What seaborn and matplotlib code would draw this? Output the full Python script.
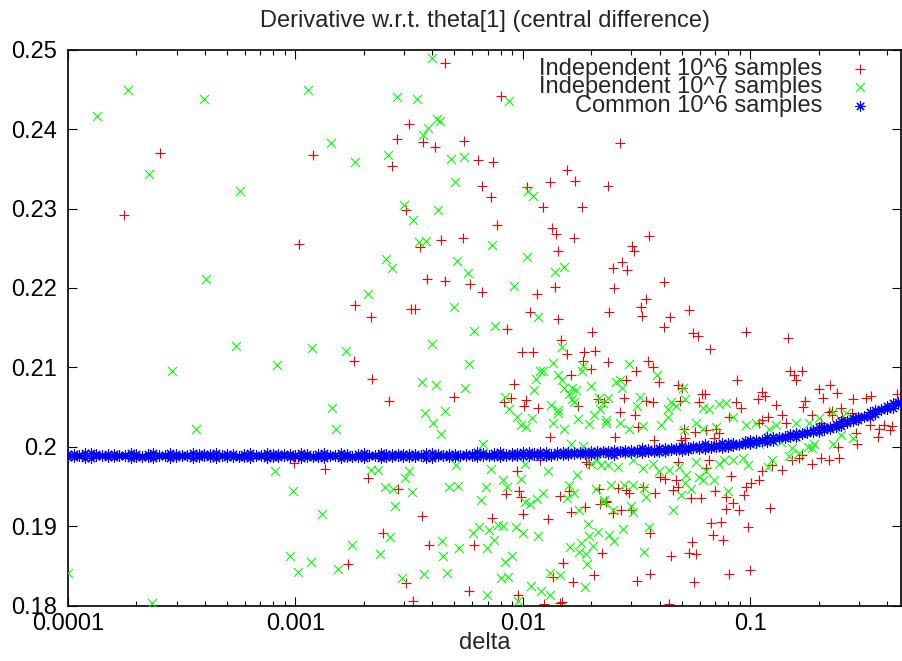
import numpy as np
import matplotlib
matplotlib.use("Agg")
import matplotlib.pyplot as plt
import matplotlib.ticker as mticker
import seaborn as sns

# Independent 10^6 samples (red +)
red_x = [
    2.54e-4, 1.20e-3, 1.76e-4, 4.56e-3, 8.03e-3, 3.15e-3, 2.79e-3, 3.63e-3, 4.09e-3, 5.50e-3,
    2.66e-3, 6.34e-3, 7.41e-3, 1.56e-2, 1.70e-2, 1.32e-2, 2.37e-2, 6.58e-3, 7.21e-3, 1.04e-2,
    1.23e-2, 1.82e-2, 3.05e-3, 7.66e-3, 1.34e-2, 2.68e-2, 1.04e-3, 1.40e-2, 1.67e-2, 4.35e-3,
    5.45e-3, 3.54e-3, 1.43e-2, 3.80e-3, 4.53e-3, 5.85e-3, 6.62e-3, 1.39e-2, 1.15e-2, 1.82e-3,
    3.21e-3, 3.35e-3, 2.14e-3, 1.07e-2, 1.42e-2, 8.50e-3, 2.02e-2, 1.47e-2, 9.86e-3, 1.11e-2,
    1.57e-2, 1.85e-2, 2.08e-2, 1.83e-2, 2.36e-2, 2.00e-2, 1.63e-2, 1.80e-3, 2.18e-3, 2.58e-3,
    4.99e-3, 9.12e-3, 8.88e-3, 1.03e-2, 1.01e-2, 1.17e-2, 1.74e-2, 2.13e-2, 8.24e-3, 2.40e-2,
    3.57e-2, 3.01e-2, 3.07e-2, 2.73e-2, 2.49e-2, 2.88e-2, 4.19e-2, 2.52e-2, 3.48e-2, 3.30e-2,
    3.34e-2, 5.35e-2, 4.45e-2, 4.16e-2, 5.57e-2, 5.89e-2, 9.57e-2, 0.146, 6.62e-2, 3.54e-2,
    3.15e-2, 3.75e-2, 2.84e-2, 3.98e-2, 0.150, 0.156, 0.158, 0.168, 8.74e-2, 4.79e-2,
    5.01e-2, 2.77e-2, 6.12e-2, 6.31e-2, 3.48e-2, 3.72e-2, 4.90e-2, 5.93e-2, 8.68e-2, 0.113,
    0.116, 0.108, 0.200, 0.224, 0.240, 0.209, 0.174, 0.282, 0.323, 0.340,
    0.130, 0.170, 9.10e-2, 2.66e-2, 2.28e-2, 0.440, 0.228, 0.250, 9.87e-4, 1.35e-3,
    1.31e-2, 1.19e-2, 9.44e-3, 1.90e-2, 1.95e-2, 2.09e-3, 2.82e-3, 9.59e-3, 9.84e-3, 8.45e-3,
    1.45e-2, 1.59e-2, 2.15e-2, 2.18e-2, 2.32e-2, 1.88e-2, 1.62e-2, 1.00e-2, 1.29e-2, 7.28e-3,
    3.60e-3, 2.43e-3, 3.86e-3, 6.10e-3, 2.23e-2, 1.50e-2, 1.70e-3, 2.06e-2, 1.36e-2, 1.66e-2,
    3.05e-3, 5.81e-3, 9.50e-3, 3.28e-3, 1.24e-2, 1.45e-2, 1.49e-2, 3.11e-2, 3.22e-2, 3.78e-2,
    2.54e-2, 5.13e-2, 5.18e-2, 4.95e-2, 5.70e-2, 6.38e-2, 7.06e-2, 7.30e-2, 6.93e-2, 8.07e-2,
    0.109, 0.112, 0.120, 0.138, 0.143, 0.187, 0.204, 0.222, 0.229, 0.254,
    0.281, 0.300, 0.336, 0.366, 0.388, 0.418, 0.363, 0.412, 0.290, 0.295,
    0.244, 0.245, 0.222, 0.204, 0.187, 0.169, 0.163, 0.152, 0.138, 0.125,
    0.113, 0.109, 0.101, 9.57e-2, 9.40e-2, 8.26e-2, 8.87e-2, 7.81e-2, 7.81e-2, 8.36e-2,
    7.02e-2, 6.07e-2, 5.49e-2, 0.122, 6.71e-2, 7.43e-2, 6.82e-2, 7.60e-2, 9.72e-2, 5.56e-2,
    5.37e-2, 5.78e-2, 4.48e-2, 3.63e-2, 3.62e-2, 3.18e-2, 5.65e-2, 8.07e-2, 0.100, 4.37e-2,
    4.71e-2, 4.79e-2, 4.58e-2, 4.20e-2, 4.01e-2, 4.79e-2, 6.38e-2, 6.60e-2, 3.82e-2, 3.37e-2,
    2.84e-2, 2.92e-2, 2.61e-2, 2.32e-2, 2.48e-2, 2.70e-2, 2.99e-2,
]
red_y = [
    0.2370, 0.2367, 0.2292, 0.2483, 0.2442, 0.2406, 0.2387, 0.2384, 0.2378, 0.2385,
    0.2354, 0.2361, 0.2358, 0.2349, 0.2335, 0.2334, 0.2329, 0.2329, 0.2314, 0.2327,
    0.2302, 0.2302, 0.2298, 0.2279, 0.2275, 0.2382, 0.2255, 0.2268, 0.2263, 0.2261,
    0.2263, 0.2252, 0.2247, 0.2211, 0.2209, 0.2205, 0.2195, 0.2201, 0.2192, 0.2179,
    0.2173, 0.2173, 0.2164, 0.2170, 0.2161, 0.2148, 0.2145, 0.2135, 0.2119, 0.2119,
    0.2117, 0.2119, 0.2121, 0.2108, 0.2107, 0.2098, 0.2091, 0.2108, 0.2085, 0.2058,
    0.2063, 0.2079, 0.2061, 0.2059, 0.2051, 0.2049, 0.2052, 0.2060, 0.2057, 0.2170,
    0.2265, 0.2253, 0.2247, 0.2233, 0.2225, 0.2223, 0.2208, 0.2200, 0.2186, 0.2176,
    0.2165, 0.2172, 0.2163, 0.2151, 0.2143, 0.2140, 0.2144, 0.2137, 0.2123, 0.2108,
    0.2095, 0.2100, 0.2084, 0.2082, 0.2095, 0.2090, 0.2084, 0.2095, 0.2084, 0.2078,
    0.2074, 0.2062, 0.2067, 0.2067, 0.2058, 0.2057, 0.2058, 0.2057, 0.2056, 0.2069,
    0.2064, 0.2060, 0.2073, 0.2078, 0.2068, 0.2061, 0.2058, 0.2060, 0.2061, 0.2064,
    0.2053, 0.2050, 0.2049, 0.2044, 0.2056, 0.2067, 0.2045, 0.2049, 0.1980, 0.1972,
    0.2012, 0.1983, 0.1970, 0.1981, 0.1979, 0.1961, 0.1947, 0.1945, 0.1937, 0.1941,
    0.1938, 0.1944, 0.1947, 0.1928, 0.1931, 0.1924, 0.1918, 0.1916, 0.1909, 0.1911,
    0.1913, 0.1892, 0.1877, 0.1876, 0.1866, 0.1854, 0.1853, 0.1839, 0.1836, 0.1830,
    0.1828, 0.1819, 0.1813, 0.1806, 0.1802, 0.1803, 0.1805, 0.2040, 0.2025, 0.2009,
    0.2013, 0.2023, 0.2011, 0.2009, 0.2019, 0.2021, 0.2023, 0.2017, 0.2011, 0.2038,
    0.2030, 0.2034, 0.2038, 0.2040, 0.2030, 0.2040, 0.2030, 0.2044, 0.2040, 0.2038,
    0.2042, 0.2036, 0.2028, 0.2023, 0.2028, 0.2026, 0.2013, 0.2021, 0.2017, 0.2004,
    0.2000, 0.1986, 0.1983, 0.1986, 0.1979, 0.1990, 0.1986, 0.1983, 0.1971, 0.1977,
    0.1969, 0.1958, 0.1955, 0.1950, 0.1939, 0.1963, 0.1920, 0.1937, 0.1922, 0.1929,
    0.1944, 0.1936, 0.1936, 0.1923, 0.1904, 0.1905, 0.1889, 0.1883, 0.1899, 0.1880,
    0.1866, 0.1865, 0.1862, 0.1891, 0.1840, 0.1831, 0.1830, 0.1840, 0.1845, 0.1802,
    0.1958, 0.1950, 0.1946, 0.1960, 0.1962, 0.1981, 0.1973, 0.1983, 0.1942, 0.1950,
    0.1946, 0.1942, 0.1948, 0.1932, 0.1917, 0.1921, 0.1921,
]

# Independent 10^7 samples (green x)
green_x = [
    1.34e-4, 1.83e-4, 3.97e-4, 1.13e-3, 1.43e-3, 2.28e-4, 5.71e-4, 4.00e-3, 2.79e-3, 3.44e-3,
    8.73e-3, 4.19e-3, 4.31e-3, 3.84e-3, 3.63e-3, 1.83e-3, 2.54e-3, 4.84e-3, 5.50e-3, 5.04e-3,
    1.05e-2, 1.11e-2, 3.01e-3, 3.28e-3, 4.25e-3, 4.06e-4, 5.47e-4, 1.18e-3, 8.28e-4, 2.86e-4,
    1.45e-3, 3.51e-3, 3.76e-3, 7.35e-3, 2.51e-3, 2.66e-3, 5.13e-3, 5.74e-3, 1.04e-2, 1.38e-2,
    1.52e-2, 9.18e-3, 2.08e-3, 4.97e-3, 1.16e-2, 7.57e-3, 6.10e-3, 3.97e-3, 1.66e-3, 1.49e-2,
    5.80e-3, 1.35e-2, 1.19e-2, 1.23e-2, 1.14e-2, 1.42e-2, 1.48e-2, 1.81e-2, 1.83e-2, 1.52e-2,
    1.65e-2, 1.72e-2, 1.59e-2, 1.99e-2, 1.12e-2, 1.64e-2, 1.68e-2, 8.30e-3, 8.73e-3, 5.58e-3,
    4.13e-3, 3.60e-3, 3.70e-3, 4.56e-3, 1.33e-2, 1.43e-2, 2.15e-2, 2.24e-2, 2.18e-2, 2.92e-2,
    3.87e-2, 2.57e-2, 2.68e-2, 2.73e-2, 5.07e-2, 2.36e-2, 3.28e-2, 3.18e-2, 4.48e-2, 5.18e-2,
    4.71e-2, 4.33e-2, 6.21e-2, 7.30e-2, 7.81e-2, 6.60e-2, 3.64e-4, 1.50e-3, 8.12e-4, 9.77e-4,
    1.31e-3, 9.50e-4, 1.17e-3, 1.03e-3, 1.54e-3, 1.00e-4, 2.34e-4, 4.03e-3, 4.36e-3, 6.71e-3,
    9.44e-3, 9.84e-3, 1.10e-2, 1.03e-2, 1.42e-2, 1.36e-2, 1.52e-2, 1.74e-2, 1.95e-2, 2.05e-2,
    1.63e-2, 1.83e-2, 2.32e-2, 2.15e-3, 2.30e-3, 3.15e-3, 3.02e-3, 2.47e-3, 2.69e-3, 3.26e-3,
    2.75e-3, 5.08e-3, 4.72e-3, 5.16e-3, 7.24e-3, 6.89e-3, 6.55e-3, 8.15e-3, 8.51e-3, 9.77e-3,
    1.02e-2, 1.29e-2, 1.02e-2, 1.07e-2, 1.15e-2, 1.22e-2, 1.59e-2, 1.73e-2, 1.67e-2, 1.56e-2,
    1.77e-2, 2.10e-2, 2.28e-2, 2.00e-2, 2.11e-2, 2.21e-2, 6.03e-3, 6.38e-3, 7.13e-3, 7.76e-3,
    8.17e-3, 7.50e-3, 9.34e-3, 1.00e-2, 1.17e-2, 6.93e-3, 4.42e-3, 5.22e-3, 4.47e-3, 2.61e-3,
    1.77e-3, 2.36e-3, 2.94e-3, 3.66e-3, 4.63e-3, 8.32e-3, 8.97e-3, 8.03e-3, 8.59e-3, 6.95e-3,
    1.08e-2, 1.20e-2, 1.31e-2, 9.50e-3, 1.32e-2, 1.45e-2, 1.91e-2, 1.88e-2, 1.93e-2, 1.96e-2,
    2.13e-2, 1.61e-2, 1.80e-2, 1.77e-2, 1.90e-2, 2.03e-2, 2.38e-2, 2.32e-2, 2.66e-2, 2.94e-2,
    3.36e-2, 4.05e-2, 4.33e-2, 5.13e-2, 5.78e-2, 6.17e-2, 7.06e-2, 8.36e-2, 9.57e-2, 0.106,
    0.121, 0.129, 0.158, 0.181, 0.201, 0.230, 0.263, 0.250, 0.191, 0.179,
    0.153, 0.136, 0.109, 2.36e-2, 2.61e-2, 3.04e-2, 3.37e-2, 3.72e-2, 3.98e-2, 4.40e-2,
    4.88e-2, 5.21e-2, 5.78e-2, 5.97e-2, 6.38e-2, 6.95e-2, 7.30e-2, 7.67e-2, 8.36e-2, 9.24e-2,
    9.72e-2, 0.119, 0.125, 0.148, 0.164, 0.187, 0.230, 0.282, 2.44e-2, 2.79e-2,
    3.04e-2, 3.42e-2, 3.48e-2, 4.95e-2, 5.48e-2, 6.17e-2, 5.18e-2, 7.95e-2, 2.28e-2, 2.48e-2,
    2.99e-2, 3.04e-2, 2.75e-2, 3.60e-2, 2.52e-2, 3.42e-2, 4.57e-2,
]
green_y = [
    0.2417, 0.2449, 0.2438, 0.2449, 0.2383, 0.2344, 0.2322, 0.2489, 0.2440, 0.2438,
    0.2435, 0.2413, 0.2410, 0.2402, 0.2393, 0.2358, 0.2368, 0.2362, 0.2365, 0.2333,
    0.2322, 0.2316, 0.2304, 0.2286, 0.2298, 0.2211, 0.2127, 0.2125, 0.2103, 0.2096,
    0.2049, 0.2258, 0.2259, 0.2254, 0.2237, 0.2225, 0.2234, 0.2219, 0.2239, 0.2220,
    0.2226, 0.2203, 0.2192, 0.2176, 0.2164, 0.2152, 0.2146, 0.2129, 0.2121, 0.2126,
    0.2104, 0.2106, 0.2096, 0.2096, 0.2085, 0.2090, 0.2084, 0.2096, 0.2102, 0.2074,
    0.2074, 0.2071, 0.2066, 0.2077, 0.2071, 0.2060, 0.2057, 0.2063, 0.2047, 0.2074,
    0.2078, 0.2082, 0.2042, 0.2045, 0.2053, 0.2046, 0.2061, 0.2055, 0.2047, 0.2104,
    0.2090, 0.2082, 0.2084, 0.2074, 0.2074, 0.2062, 0.2063, 0.2051, 0.2057, 0.2060,
    0.2051, 0.2048, 0.2049, 0.2054, 0.2055, 0.2047, 0.2022, 0.2022, 0.1970, 0.1944,
    0.1916, 0.1862, 0.1855, 0.1842, 0.1846, 0.1841, 0.1803, 0.2030, 0.2016, 0.2003,
    0.2038, 0.2028, 0.2036, 0.2025, 0.2042, 0.2030, 0.2022, 0.2035, 0.2029, 0.2040,
    0.2003, 0.2001, 0.2030, 0.1971, 0.1971, 0.1970, 0.1961, 0.1949, 0.1947, 0.1943,
    0.1926, 0.1977, 0.1950, 0.1951, 0.1972, 0.1950, 0.1933, 0.1958, 0.1949, 0.1960,
    0.1978, 0.1969, 0.1930, 0.1928, 0.1934, 0.1942, 0.1952, 0.1965, 0.1942, 0.1935,
    0.1921, 0.1947, 0.1930, 0.1979, 0.1984, 0.1977, 0.1892, 0.1899, 0.1895, 0.1902,
    0.1900, 0.1883, 0.1899, 0.1891, 0.1888, 0.1872, 0.1881, 0.1873, 0.1862, 0.1886,
    0.1876, 0.1865, 0.1835, 0.1840, 0.1841, 0.1855, 0.1862, 0.1835, 0.1836, 0.1814,
    0.1825, 0.1818, 0.1813, 0.1806, 0.1841, 0.1838, 0.1852, 0.1824, 0.1903, 0.1888,
    0.1893, 0.1874, 0.1879, 0.1867, 0.1865, 0.1875, 0.1889, 0.2034, 0.2030, 0.2023,
    0.2026, 0.2028, 0.2038, 0.2021, 0.2030, 0.2023, 0.2025, 0.2038, 0.2028, 0.2030,
    0.2023, 0.2028, 0.2030, 0.2030, 0.2036, 0.2044, 0.2042, 0.2015, 0.2004, 0.2000,
    0.1998, 0.2006, 0.2004, 0.1977, 0.1974, 0.1983, 0.1973, 0.1979, 0.1969, 0.1971,
    0.1975, 0.1965, 0.1981, 0.1962, 0.1969, 0.1958, 0.1979, 0.1983, 0.1983, 0.1986,
    0.1977, 0.1975, 0.1983, 0.1988, 0.1992, 0.1998, 0.2004, 0.2011, 0.1952, 0.1952,
    0.1952, 0.1948, 0.1937, 0.1939, 0.1947, 0.1958, 0.1954, 0.1944, 0.1933, 0.1921,
    0.1925, 0.1918, 0.1897, 0.1899, 0.1881, 0.1868, 0.1921,
]

# Common 10^6 samples (blue *), a dense band: two readings per delta
blue_x = [
    1.000e-4, 1.059e-4, 1.122e-4, 1.189e-4, 1.259e-4, 1.334e-4, 1.413e-4, 1.496e-4, 1.585e-4, 1.679e-4,
    1.778e-4, 1.884e-4, 1.995e-4, 2.113e-4, 2.239e-4, 2.371e-4, 2.512e-4, 2.661e-4, 2.818e-4, 2.985e-4,
    3.162e-4, 3.350e-4, 3.548e-4, 3.758e-4, 3.981e-4, 4.217e-4, 4.467e-4, 4.732e-4, 5.012e-4, 5.309e-4,
    5.623e-4, 5.957e-4, 6.310e-4, 6.683e-4, 7.079e-4, 7.499e-4, 7.943e-4, 8.414e-4, 8.913e-4, 9.441e-4,
    1.000e-3, 1.059e-3, 1.122e-3, 1.189e-3, 1.259e-3, 1.334e-3, 1.413e-3, 1.496e-3, 1.585e-3, 1.679e-3,
    1.778e-3, 1.884e-3, 1.995e-3, 2.113e-3, 2.239e-3, 2.371e-3, 2.512e-3, 2.661e-3, 2.818e-3, 2.985e-3,
    3.162e-3, 3.350e-3, 3.548e-3, 3.758e-3, 3.981e-3, 4.217e-3, 4.467e-3, 4.732e-3, 5.012e-3, 5.309e-3,
    5.623e-3, 5.957e-3, 6.310e-3, 6.683e-3, 7.079e-3, 7.499e-3, 7.943e-3, 8.414e-3, 8.913e-3, 9.441e-3,
    1.000e-2, 1.059e-2, 1.122e-2, 1.189e-2, 1.259e-2, 1.334e-2, 1.413e-2, 1.496e-2, 1.585e-2, 1.679e-2,
    1.778e-2, 1.884e-2, 1.995e-2, 2.113e-2, 2.239e-2, 2.371e-2, 2.512e-2, 2.661e-2, 2.818e-2, 2.985e-2,
    3.162e-2, 3.350e-2, 3.548e-2, 3.758e-2, 3.981e-2, 4.217e-2, 4.467e-2, 4.732e-2, 5.012e-2, 5.309e-2,
    5.623e-2, 5.957e-2, 6.310e-2, 6.683e-2, 7.079e-2, 7.499e-2, 7.943e-2, 8.414e-2, 8.913e-2, 9.441e-2,
    0.1000, 0.1059, 0.1122, 0.1189, 0.1259, 0.1334, 0.1413, 0.1496, 0.1585, 0.1679,
    0.1778, 0.1884, 0.1995, 0.2113, 0.2239, 0.2371, 0.2512, 0.2661, 0.2818, 0.2985,
    0.3162, 0.3350, 0.3548, 0.3758, 0.3981, 0.4217, 0.4467,
]
blue_y_a = [
    0.1991, 0.1987, 0.1990, 0.1986, 0.1992, 0.1989, 0.1988, 0.1991, 0.1987, 0.1990,
    0.1988, 0.1992, 0.1987, 0.1989, 0.1991, 0.1986, 0.1990, 0.1988, 0.1992, 0.1987,
    0.1990, 0.1988, 0.1992, 0.1987, 0.1989, 0.1991, 0.1986, 0.1990, 0.1987, 0.1991,
    0.1989, 0.1991, 0.1986, 0.1990, 0.1988, 0.1992, 0.1987, 0.1991, 0.1989, 0.1987,
    0.1988, 0.1992, 0.1987, 0.1989, 0.1991, 0.1986, 0.1990, 0.1988, 0.1992, 0.1987,
    0.1989, 0.1991, 0.1986, 0.1990, 0.1988, 0.1992, 0.1987, 0.1991, 0.1989, 0.1987,
    0.1991, 0.1987, 0.1990, 0.1986, 0.1992, 0.1989, 0.1988, 0.1991, 0.1987, 0.1990,
    0.1991, 0.1989, 0.1993, 0.1988, 0.1990, 0.1992, 0.1987, 0.1991, 0.1988, 0.1992,
    0.1993, 0.1989, 0.1992, 0.1988, 0.1994, 0.1991, 0.1990, 0.1994, 0.1990, 0.1993,
    0.1993, 0.1991, 0.1995, 0.1991, 0.1993, 0.1995, 0.1990, 0.1995, 0.1992, 0.1996,
    0.1994, 0.1998, 0.1993, 0.1996, 0.1998, 0.1993, 0.1998, 0.1996, 0.2001, 0.1996,
    0.1999, 0.2001, 0.1997, 0.2001, 0.2000, 0.2005, 0.2000, 0.2005, 0.2004, 0.2003,
    0.2008, 0.2005, 0.2009, 0.2006, 0.2013, 0.2011, 0.2011, 0.2016, 0.2013, 0.2018,
    0.2019, 0.2019, 0.2025, 0.2021, 0.2025, 0.2029, 0.2026, 0.2032, 0.2032, 0.2038,
    0.2037, 0.2044, 0.2041, 0.2046, 0.2051, 0.2049, 0.2056,
]
blue_y_b = [
    0.1987, 0.1991, 0.1988, 0.1992, 0.1986, 0.1991, 0.1990, 0.1987, 0.1991, 0.1988,
    0.1990, 0.1986, 0.1991, 0.1987, 0.1987, 0.1992, 0.1988, 0.1990, 0.1986, 0.1991,
    0.1988, 0.1990, 0.1986, 0.1991, 0.1991, 0.1987, 0.1992, 0.1988, 0.1991, 0.1987,
    0.1987, 0.1987, 0.1992, 0.1988, 0.1990, 0.1986, 0.1991, 0.1987, 0.1991, 0.1991,
    0.1990, 0.1986, 0.1991, 0.1987, 0.1987, 0.1992, 0.1988, 0.1990, 0.1986, 0.1991,
    0.1987, 0.1987, 0.1992, 0.1988, 0.1990, 0.1986, 0.1991, 0.1987, 0.1991, 0.1991,
    0.1987, 0.1991, 0.1988, 0.1992, 0.1986, 0.1991, 0.1990, 0.1987, 0.1991, 0.1988,
    0.1989, 0.1991, 0.1987, 0.1992, 0.1988, 0.1988, 0.1993, 0.1989, 0.1992, 0.1988,
    0.1989, 0.1993, 0.1990, 0.1994, 0.1988, 0.1989, 0.1993, 0.1990, 0.1994, 0.1991,
    0.1991, 0.1993, 0.1990, 0.1995, 0.1995, 0.1991, 0.1996, 0.1993, 0.1996, 0.1992,
    0.1996, 0.1992, 0.1997, 0.1994, 0.1994, 0.1999, 0.1996, 0.1998, 0.1995, 0.2000,
    0.2001, 0.1997, 0.2003, 0.1999, 0.2002, 0.1999, 0.2005, 0.2001, 0.2002, 0.2007,
    0.2004, 0.2009, 0.2007, 0.2012, 0.2007, 0.2013, 0.2014, 0.2012, 0.2017, 0.2016,
    0.2017, 0.2021, 0.2019, 0.2025, 0.2023, 0.2025, 0.2032, 0.2030, 0.2036, 0.2034,
    0.2039, 0.2038, 0.2046, 0.2048, 0.2047, 0.2055, 0.2054,
]

series_labels = ["Independent 10^6 samples", "Independent 10^7 samples", "Common 10^6 samples"]
x_ticks = [1e-4, 1e-3, 1e-2, 1e-1]
x_tick_labels = ["0.0001", "0.001", "0.01", "0.1"]
y_ticks = [0.18, 0.19, 0.20, 0.21, 0.22, 0.23, 0.24, 0.25]
y_tick_labels = ["0.18", "0.19", "0.2", "0.21", "0.22", "0.23", "0.24", "0.25"]

sns.set_theme(style="ticks", rc={"axes.edgecolor": "black", "axes.linewidth": 1.2})
plt.rcParams['font.family'] = ['Liberation Sans', 'DejaVu Sans']
FS = 17

fig, ax = plt.subplots(figsize=(9.02, 6.61), dpi=100)
fig.subplots_adjust(left=0.0754, right=0.999, bottom=0.0837, top=0.9248)

sns.scatterplot(x=red_x, y=red_y, ax=ax, marker='+', color='#ff0000', s=42,
                linewidth=0.8, label=series_labels[0], zorder=2)
sns.scatterplot(x=green_x, y=green_y, ax=ax, marker='x', color='#00ff00', s=42,
                linewidth=0.8, label=series_labels[1], zorder=3)
sns.scatterplot(x=blue_x + blue_x, y=blue_y_a + blue_y_b, ax=ax, marker=(8, 2, 0),
                color='#0000ff', s=46, linewidth=0.8, label=series_labels[2], zorder=4)

ax.set_xscale('log')
ax.set_xlim(1e-4, 0.46)
ax.set_ylim(0.18, 0.25)
ax.set_xticks(x_ticks)
ax.set_xticklabels(x_tick_labels)
ax.xaxis.set_minor_locator(mticker.LogLocator(base=10, subs=np.arange(2, 10)))
ax.xaxis.set_minor_formatter(mticker.NullFormatter())
ax.set_yticks(y_ticks)
ax.set_yticklabels(y_tick_labels)

ax.tick_params(which='both', direction='in', top=True, right=True, colors='black',
               labelsize=FS, width=0.8)
ax.tick_params(which='major', length=6.5)
ax.tick_params(which='minor', length=3.5)
ax.tick_params(axis='x', pad=5)
ax.tick_params(axis='y', pad=8)

ax.set_title('Derivative w.r.t. theta[1] (central difference)', fontsize=FS, pad=16)
ax.set_xlabel('delta', fontsize=FS, labelpad=-2)
ax.set_ylabel('')

# gnuplot-style key: right-aligned text with the sample to its right
ax.legend(loc='upper right', bbox_to_anchor=(886 / 902, 1 - 58 / 661),
          bbox_transform=fig.transFigure, markerfirst=False, frameon=False,
          handletextpad=0.5, handlelength=2.2, labelspacing=-0.15, borderpad=0,
          borderaxespad=0, fontsize=FS, scatterpoints=1)

plt.savefig('out.png', dpi=100)
